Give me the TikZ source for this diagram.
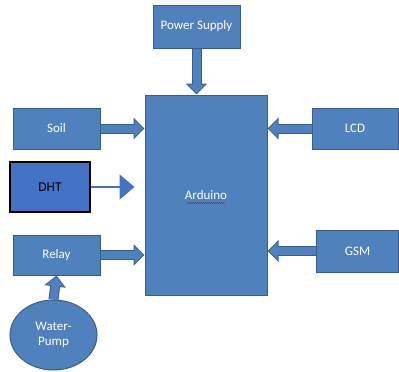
\documentclass[tikz,border=0pt]{standalone}
\usepackage{fontspec}
\setmainfont{Carlito}
\usetikzlibrary{arrows.meta,positioning,calc,shapes.geometric,decorations.pathmorphing}
\definecolor{bdfill}{RGB}{79,129,189}
\definecolor{bdline}{RGB}{56,93,138}
\definecolor{dhtfill}{RGB}{68,114,196}
\tikzset{
  blk/.style={draw=bdline, line width=1pt, fill=bdfill, text=white, inner sep=0pt, align=center, font=\fontsize{13}{15}\selectfont},
  dhtbox/.style={draw=black, line width=2.5pt, fill=dhtfill, text=black, inner sep=0pt, font=\fontsize{13.5}{15}\selectfont},
  barr/.style={draw=bdfill, line width=8pt, shorten >=1.5pt, -{Triangle[length=8.5pt,width=17pt]},
    preaction={draw=bdline, line width=10pt, shorten >=0pt, -{Triangle[length=11pt,width=21pt]}}},
  tarr/.style={draw=dhtfill, line width=2pt, -{Triangle[length=15pt,width=25pt]}},
}
\begin{document}
\begin{tikzpicture}[x=1pt, y=-1pt]
  \useasboundingbox (0,0) rectangle (399,372);
  \node[blk, minimum width=122pt, minimum height=200pt] (ard) at (206,195) {Arduino};
  \node[blk, minimum width=87pt, minimum height=43pt] (ps) at (196.5,26.5) {Power Supply};
  \node[blk, minimum width=87pt, minimum height=41pt] (soil) at (56.5,128.5) {Soil};
  \node[dhtbox, minimum width=80pt, minimum height=50pt] (dht) at (50,187) {DHT};
  \node[blk, minimum width=87pt, minimum height=40pt] (relay) at (56.5,255) {Relay};
  \node[blk, ellipse, minimum width=87pt, minimum height=70pt] (pump) at (53.5,335) {Water-\\Pump};
  \node[blk, minimum width=86pt, minimum height=41pt] (lcd) at (355,128.5) {LCD};
  \node[blk, minimum width=82pt, minimum height=42pt] (gsm) at (357.5,251) {GSM};
  \coordinate (dhtend) at ($(ard.west|-dht.east)+(-10,0)$);
  % spell-check mark under the label
  \draw[red!80!black, line width=0.4pt, decorate, decoration={snake, amplitude=0.5pt, segment length=2pt}]
    ($(ard.center)+(-19,8)$) -- ++(38,0);
  % connectors
  \draw[barr] (ps.south) -- (ps.south|-ard.north);
  \draw[barr] (soil.east) -- (ard.west|-soil.east);
  \draw[barr] (relay.east) -- (ard.west|-relay.east);
  \draw[barr] (lcd.west) -- (ard.east|-lcd.west);
  \draw[barr] (gsm.west) -- (ard.east|-gsm.west);
  \draw[barr] (pump.north) -- (relay.south);
  \draw[tarr] (dht.east) -- (dhtend);
\end{tikzpicture}
\end{document}
